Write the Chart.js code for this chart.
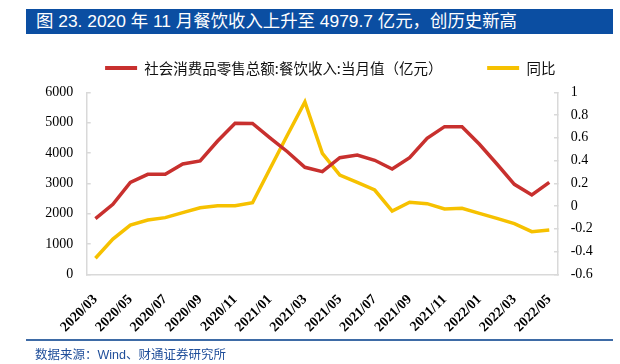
<!DOCTYPE html>
<html>
<head>
<meta charset="utf-8">
<script src="https://cdn.jsdelivr.net/npm/chart.js@4.4.1/dist/chart.umd.min.js"></script>
<style>
  html, body { margin: 0; padding: 0; background: #fff; }
  #wrap { position: relative; width: 620px; height: 364px; overflow: hidden; }
  #chartBox { position: absolute; left: 0; top: 0; width: 620px; height: 364px; }
  #title {
    position: absolute; left: 26px; top: 9px; width: 577px; height: 25px;
    padding-left: 10px; background: #0b4ea2; color: #fff;
    font: 17.4px "Liberation Sans", "Noto Sans CJK SC", sans-serif; line-height: 25px;
    white-space: nowrap;
  }
  #rule { position: absolute; left: 26px; top: 339px; width: 587px; height: 1.5px; background: #3e6ba6; }
  #source {
    position: absolute; left: 35px; top: 348px; color: #1f4e9a;
    font: 12.5px "Liberation Sans", "Noto Sans CJK SC", sans-serif; line-height: 15px;
    white-space: nowrap;
  }
</style>
</head>
<body>
<div id="wrap">
  <div id="chartBox"><canvas id="cateringChart"></canvas></div>
  <div id="title">图 23. 2020 年 11 月餐饮收入上升至 4979.7 亿元，创历史新高</div>
  <div id="rule"></div>
  <div id="source">数据来源：Wind、财通证券研究所</div>
</div>
<script>
const months = [
  "2020/03", "2020/04", "2020/05", "2020/06", "2020/07", "2020/08", "2020/09",
  "2020/10", "2020/11", "2020/12", "2021/01", "2021/02", "2021/03", "2021/04",
  "2021/05", "2021/06", "2021/07", "2021/08", "2021/09", "2021/10", "2021/11",
  "2021/12", "2022/01", "2022/02", "2022/03", "2022/04", "2022/05"
];

// 餐饮收入当月值（亿元）
const cateringRevenue = [
  1838, 2307, 3033, 3297, 3297, 3637, 3736,
  4395, 4980, 4975, 4500, 4040, 3528, 3383,
  3845, 3933, 3758, 3472, 3845, 4484, 4867,
  4867, 4286, 3637, 2967, 2615, 3033
];

// 同比
const cateringYoY = [
  -0.459, -0.290, -0.167, -0.123, -0.102, -0.058, -0.015,
  0.003, 0.003, 0.029, 0.328, 0.625, 0.916, 0.464,
  0.273, 0.209, 0.141, -0.044, 0.033, 0.021, -0.026,
  -0.020, -0.064, -0.108, -0.155, -0.225, -0.211
];

const leftTicks = { min: 0, max: 6000, step: 1000 };
const rightTicks = { min: -0.6, max: 1, step: 0.2 };

const seriesNames = ["社会消费品零售总额:餐饮收入:当月值（亿元）", "同比"];

const RED = "#c8302e";
const YELLOW = "#f6c100";
const AXIS_GRAY = "#d9d9d9";

const serif = "'Liberation Serif', 'Times New Roman', serif";
const cjk = "'Noto Sans CJK SC', sans-serif";

// legend sits higher than chart.js would put it, leave some room under it
const LEGEND_GAP = 7;
const legendGap = {
  id: "legendGap",
  beforeLayout(c) {
    const lg = c.legend;
    if (lg && !lg._gapPatched) {
      const fit = lg.fit;
      lg.fit = function () { fit.call(this); this.height += LEGEND_GAP; };
      lg._gapPatched = true;
    }
  }
};

chart = new Chart(document.getElementById("cateringChart"), {
  type: "line",
  data: {
    labels: months,
    datasets: [
      {
        label: seriesNames[0] + "\u3000\u3000\u3000",
        data: cateringRevenue,
        borderColor: RED,
        backgroundColor: RED,
        borderWidth: 3.5,
        pointRadius: 0,
        tension: 0,
        yAxisID: "y"
      },
      {
        label: seriesNames[1],
        data: cateringYoY,
        borderColor: YELLOW,
        backgroundColor: YELLOW,
        borderWidth: 3.5,
        pointRadius: 0,
        tension: 0,
        yAxisID: "y1"
      }
    ]
  },
  plugins: [legendGap],
  options: {
    responsive: true,
    maintainAspectRatio: false,
    animation: false,
    layout: { padding: { top: 52.3, left: 40.5, right: 0, bottom: 0 } },
    plugins: {
      tooltip: { enabled: false },
      legend: {
        position: "top",
        labels: {
          font: { family: cjk, size: 14.5 },
          color: "#111",
          boxWidth: 32,
          boxHeight: 4,
          padding: 8.5,
          generateLabels: (c) => {
            const items = Chart.defaults.plugins.legend.labels.generateLabels(c);
            items.forEach(it => { it.lineWidth = 0; });
            return items;
          }
        }
      }
    },
    scales: {
      x: {
        offset: true,
        grid: { display: true, drawOnChartArea: false, drawTicks: false },
        border: { display: true, color: AXIS_GRAY, width: 1.5 },
        ticks: {
          autoSkip: false,
          maxRotation: 45,
          minRotation: 45,
          padding: 17,
          color: "#000",
          font: { family: serif, size: 14, weight: "bold" },
          callback: function (val, idx) {
            return idx % 2 === 0 ? this.getLabelForValue(val) : "";
          }
        },
        afterFit: (scale) => { scale.height = 89.7; }
      },
      y: {
        position: "left",
        min: leftTicks.min,
        max: leftTicks.max,
        grid: { drawOnChartArea: false, drawTicks: true, tickLength: -4, color: AXIS_GRAY, lineWidth: 1.5 },
        border: { display: true, color: AXIS_GRAY, width: 1.5 },
        ticks: {
          stepSize: leftTicks.step,
          padding: 17.5,
          color: "#000",
          font: { family: serif, size: 14 },
          callback: (v) => String(v)
        },
        afterFit: (scale) => { scale.width = 46.2; }
      },
      y1: {
        position: "right",
        min: rightTicks.min,
        max: rightTicks.max,
        grid: { drawOnChartArea: false, drawTicks: true, tickLength: -4, color: AXIS_GRAY, lineWidth: 1.5 },
        border: { display: true, color: AXIS_GRAY, width: 1.5 },
        ticks: {
          stepSize: rightTicks.step,
          padding: 16.7,
          color: "#000",
          font: { family: serif, size: 14 },
          callback: (v) => String(parseFloat(v.toFixed(1)))
        },
        afterFit: (scale) => { scale.width = 62; }
      }
    }
  }
});
</script>
</body>
</html>
